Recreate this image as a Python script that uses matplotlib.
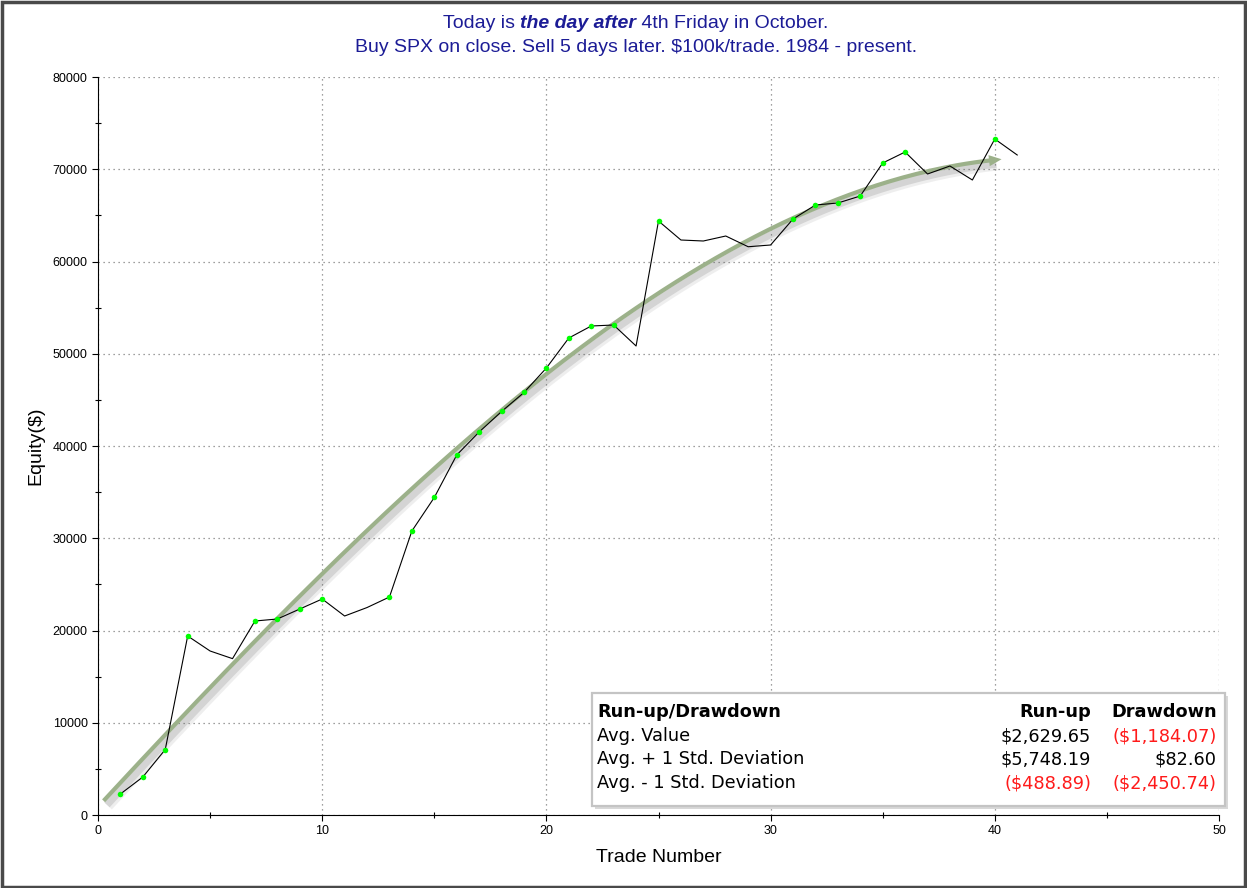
import numpy as np
import matplotlib
matplotlib.use("Agg")
import matplotlib.pyplot as plt
import matplotlib.patheffects as pe
from matplotlib.patches import Rectangle

# Equity curve (one value per trade)
trade_num = list(range(1, 42))
equity = [2276, 4119, 7100, 19404, 17778, 16950, 21030, 21247, 22330, 23415,
          21572, 22490, 23631, 30786, 34420, 39024, 41518, 43740, 45800, 48455,
          51707, 53008, 53116, 50840, 64390, 62330, 62222, 62764, 61600, 61789,
          64607, 66125, 66341, 67100, 70678, 71870, 69485, 70352, 68835, 73279,
          71545]

# trend curve, points
trend_x = [0.25, 4.55, 10.0, 15.0, 20.6, 24.3, 29.5, 31.3, 35.0, 39.9]
trend_y = [1800, 12466, 25691, 37400, 49864, 55827, 62439, 64499, 68500, 71220]
trend_end = 40.3

title_parts = [("Today is ", "normal", "normal"),
               ("the day after", "bold", "italic"),
               (" 4th Friday in October.", "normal", "normal")]
title_line2 = "Buy SPX on close. Sell 5 days later. $100k/trade. 1984 - present."

table_header = ["Run-up/Drawdown", "Run-up", "Drawdown"]
row_labels = ["Avg. Value", "Avg. + 1 Std. Deviation", "Avg. - 1 Std. Deviation"]
runup_vals = ["$2,629.65", "$5,748.19", "($488.89)"]
drawdown_vals = ["($1,184.07)", "$82.60", "($2,450.74)"]

TITLE_COLOR = "#1c1c96"
GREEN = "#9cb18a"
RED = "#ff1a1a"

plt.rcParams['font.family'] = ['Liberation Sans', 'DejaVu Sans']

fig = plt.figure(figsize=(12.47, 8.88), dpi=100)
W, H = 1247, 888
ax = fig.add_axes([98 / W, 1 - 815 / H, (1219 - 98) / W, (815 - 77) / H])

# smooth trend through the read points
coef = np.polyfit(trend_x, trend_y, 3)
tx = np.linspace(trend_x[0], trend_x[-1], 200)
ty = np.polyval(coef, tx)
shadow = [pe.SimpleLineShadow(offset=(3, -3.5), shadow_color='#606060', alpha=0.1, linewidth=8),
          pe.SimpleLineShadow(offset=(2.5, -3), shadow_color='#606060', alpha=0.18, linewidth=5),
          pe.Normal()]
ax.plot(tx, ty, color=GREEN, lw=3, solid_capstyle='butt', path_effects=shadow, zorder=2)
ax.annotate('', xy=(trend_end, np.polyval(coef, trend_end)),
            xytext=(trend_x[-1] - 0.6, np.polyval(coef, trend_x[-1] - 0.6)),
            arrowprops=dict(arrowstyle='-|>,head_length=0.9,head_width=0.4', color=GREEN, lw=0,
                            shrinkA=0, shrinkB=0), zorder=3)

# equity curve
x = np.array(trade_num, dtype=float)
y = np.array(equity, dtype=float)
ax.plot(x, y, color='black', lw=0.8, zorder=4)
new_high = y >= np.maximum.accumulate(y)
ax.plot(x[new_high], y[new_high], 'o', color='#00ff00', ms=4, mec='none', zorder=5)

ax.set_xlim(0, 50)
ax.set_ylim(0, 80000)
ax.set_xticks(range(0, 51, 10))
ax.set_xticks(range(5, 50, 10), minor=True)
ax.set_yticks(range(0, 80001, 10000))
ax.set_yticks(range(5000, 80000, 10000), minor=True)
ax.tick_params(which='major', direction='out', length=4, width=0.8, labelsize=9)
ax.tick_params(which='minor', direction='inout', length=5, width=0.8)
ax.grid(True, which='major', linestyle=(0, (1, 3)), color='#808080', lw=0.9)
for s in ['top', 'right']:
    ax.spines[s].set_visible(False)
ax.set_xlabel("Trade Number", fontsize=14, va='center')
ax.set_ylabel("Equity($)", fontsize=14, va='center')
ax.xaxis.set_label_coords(0.5, (815 - 857) / 738)
ax.yaxis.set_label_coords((36 - 98) / 1121, 0.5)

# title with bold italic piece
r = fig.canvas.get_renderer()
texts = []
for s, w, st in title_parts:
    t = fig.text(0, 1 - 24 / H, s, fontsize=14, fontweight=w, fontstyle=st,
                 color=TITLE_COLOR, va='center', ha='left')
    texts.append(t)
widths = [t.get_window_extent(r).width for t in texts]
xpos = 636 - sum(widths) / 2
for t, w in zip(texts, widths):
    t.set_x(xpos / W)
    xpos += w
fig.text(636 / W, 1 - 47 / H, title_line2, fontsize=14, color=TITLE_COLOR,
         ha='center', va='center')

# summary table
fig.patches.append(Rectangle((595 / W, 1 - 809 / H), (1228 - 595) / W, (809 - 696) / H,
                             transform=fig.transFigure, facecolor='#d8d8d8', edgecolor='none',
                             zorder=5))
fig.patches.append(Rectangle((592 / W, 1 - 806 / H), (1225 - 592) / W, (806 - 693) / H,
                             transform=fig.transFigure, facecolor='white', edgecolor='#c4c4c4',
                             lw=1.6, zorder=6))
tfont = dict(fontsize=12.8, family=['DejaVu Sans'], va='center', zorder=7)
row_y = [712, 736, 759, 783]
fig.text(597 / W, 1 - row_y[0] / H, table_header[0], fontweight='bold', ha='left', **tfont)
fig.text(1091 / W, 1 - row_y[0] / H, table_header[1], fontweight='bold', ha='right', **tfont)
fig.text(1217 / W, 1 - row_y[0] / H, table_header[2], fontweight='bold', ha='right', **tfont)
for yy, lab, ru, dd in zip(row_y[1:], row_labels, runup_vals, drawdown_vals):
    fig.text(597 / W, 1 - yy / H, lab, ha='left', color='black', **tfont)
    fig.text(1091 / W, 1 - yy / H, ru, ha='right', color=RED if ru.startswith('(') else 'black', **tfont)
    fig.text(1217 / W, 1 - yy / H, dd, ha='right', color=RED if dd.startswith('(') else 'black', **tfont)

# outer frame
fig.patches.append(Rectangle((1.5 / W, 1.5 / H), (W - 4) / W, (H - 4) / H, transform=fig.transFigure,
                             facecolor='none', edgecolor='#4a4a4a', lw=2.5, zorder=10))

fig.savefig("out.png", dpi=100)
